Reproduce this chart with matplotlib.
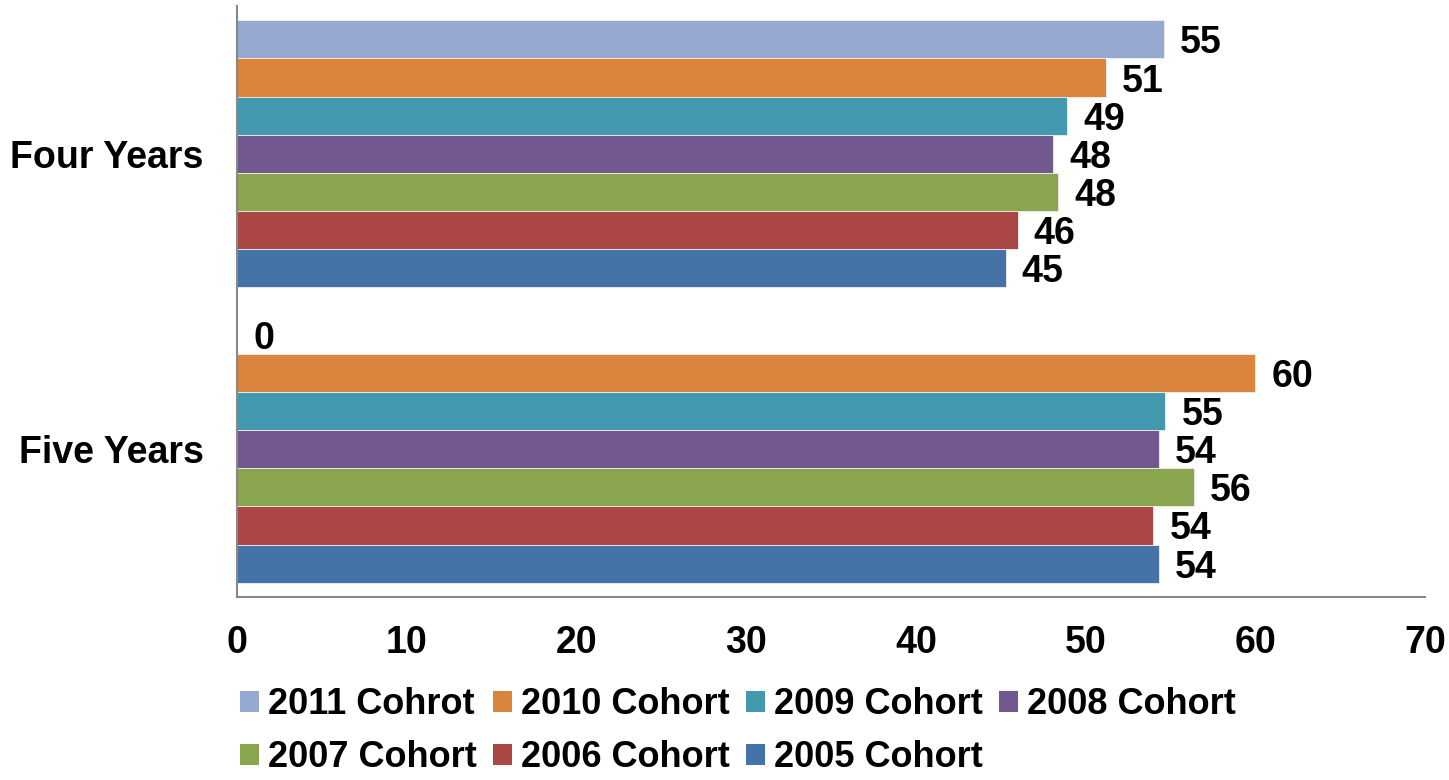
import matplotlib
matplotlib.use("Agg")
import matplotlib.pyplot as plt
from matplotlib.patches import Patch

plt.rcParams['font.family'] = ['Liberation Sans', 'DejaVu Sans']
plt.rcParams['font.weight'] = 'bold'

categories = ["Five Years", "Four Years"]
series = ["2011 Cohrot", "2010 Cohort", "2009 Cohort", "2008 Cohort",
          "2007 Cohort", "2006 Cohort", "2005 Cohort"]
# values per series: [Five Years, Four Years]
values = {
    "2011 Cohrot": [0.0, 54.6],
    "2010 Cohort": [60.0, 51.2],
    "2009 Cohort": [54.7, 48.9],
    "2008 Cohort": [54.3, 48.1],
    "2007 Cohort": [56.4, 48.4],
    "2006 Cohort": [54.0, 46.0],
    "2005 Cohort": [54.3, 45.3],
}
colors = ["#95A9D1", "#DB843D", "#4198AF", "#71588F", "#89A54E", "#AA4643", "#4572A7"]
xticks = [0, 10, 20, 30, 40, 50, 60, 70]

fig = plt.figure(figsize=(14.49, 7.80), dpi=100)
ax = fig.add_axes([237/1449, 1-597/780, (1425-237)/1449, (597-6)/780])

h = 0.129
n = len(series)
for i, (s, c) in enumerate(zip(series, colors)):
    off = (n - 1) / 2 * h - i * h
    ys = [k + off for k in range(len(categories))]
    ax.barh(ys, values[s], height=h, color=c, edgecolor='#f0f0f0', linewidth=0.6)
    for y, v in zip(ys, values[s]):
        ax.annotate(f"{v:.0f}", xy=(v, y), xytext=(16, 0),
                    textcoords='offset pixels', ha='left', va='center_baseline',
                    fontsize=27, fontweight='bold', color='black')

ax.set_xlim(0, 70)
ax.set_ylim(-0.5, 1.5)
ax.set_xticks(xticks)
ax.set_xticklabels([str(t) for t in xticks])
ax.set_yticks(range(len(categories)))
ax.set_yticklabels(categories)
ax.tick_params(axis='x', length=0, pad=20, labelsize=27)
ax.tick_params(axis='y', length=0, pad=24, labelsize=27)
for sp in ['top', 'right']:
    ax.spines[sp].set_visible(False)
for sp in ['left', 'bottom']:
    ax.spines[sp].set_color('#888888')
    ax.spines[sp].set_linewidth(1.5)

handles = [Patch(facecolor=c, edgecolor='none', label=s) for s, c in zip(series, colors)]
# reorder so legend fills row-wise: 4 columns
order = [0, 4, 1, 5, 2, 6, 3]
leg = fig.legend([handles[i] for i in order], [series[i] for i in order],
                 loc='upper left', bbox_to_anchor=(240/1449, 1-687/780), ncol=4,
                 frameon=False, fontsize=26, handlelength=0.53, handleheight=0.53,
                 handletextpad=0.25, columnspacing=0.44, labelspacing=0.5,
                 borderaxespad=0, borderpad=0)

fig.savefig("out.png", dpi=100)
